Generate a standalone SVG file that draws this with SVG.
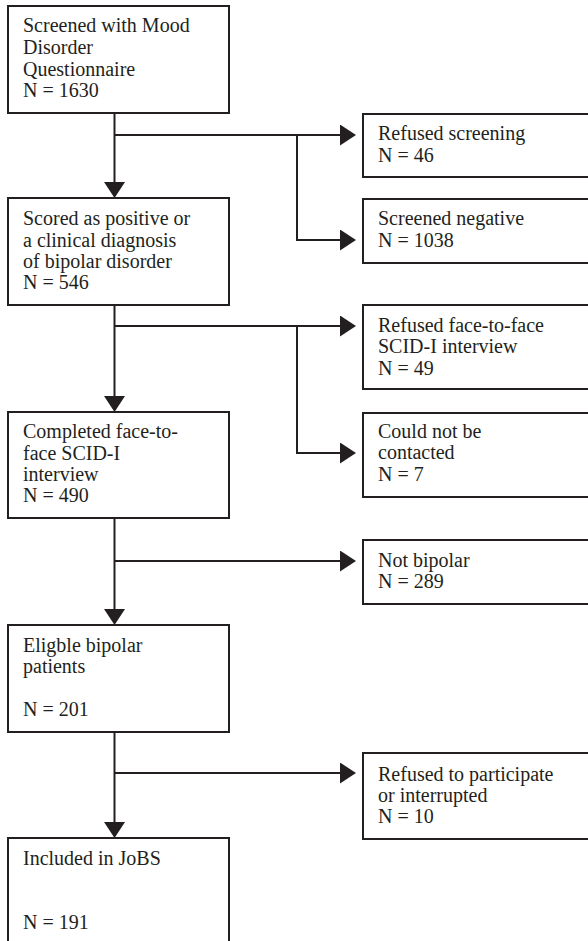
<svg xmlns="http://www.w3.org/2000/svg" width="588" height="941" viewBox="0 0 588 941">
<defs>
<style>
.box{fill:#fff;stroke:#231f20;stroke-width:2}
.t{font-family:"Liberation Serif","Times New Roman",serif;font-size:20px;fill:#231f20}
.c{fill:none;stroke:#231f20;stroke-width:2}
</style>
<marker id="ah" markerUnits="userSpaceOnUse" markerWidth="16" markerHeight="21" refX="12" refY="10.5" orient="auto">
<path d="M0,0 L16,10.5 L0,21 Z" fill="#231f20"/>
</marker>
</defs>
<rect width="588" height="941" fill="#fff"/>
<g id="connectors">
<path class="c" d="M114.5,113 V194" marker-end="url(#ah)"/>
<path class="c" d="M114.5,135 H352" marker-end="url(#ah)"/>
<path class="c" d="M297,135 V240 H352" marker-end="url(#ah)"/>
<path class="c" d="M114.5,305 V408" marker-end="url(#ah)"/>
<path class="c" d="M114.5,326 H352" marker-end="url(#ah)"/>
<path class="c" d="M297,326 V453 H352" marker-end="url(#ah)"/>
<path class="c" d="M114.5,518 V621" marker-end="url(#ah)"/>
<path class="c" d="M114.5,561 H352" marker-end="url(#ah)"/>
<path class="c" d="M114.5,732 V834" marker-end="url(#ah)"/>
<path class="c" d="M114.5,773 H352" marker-end="url(#ah)"/>
</g>
<g id="n1">
<rect class="box" x="8" y="6" width="221" height="107"/>
<text class="t" x="23" y="32">Screened with Mood</text>
<text class="t" x="23" y="54">Disorder</text>
<text class="t" x="23" y="76">Questionnaire</text>
<text class="t" x="23" y="97">N = 1630</text>
</g>
<g id="n2">
<rect class="box" x="8" y="198" width="221" height="107"/>
<text class="t" x="23" y="225">Scored as positive or</text>
<text class="t" x="23" y="247">a clinical diagnosis</text>
<text class="t" x="23" y="268">of bipolar disorder</text>
<text class="t" x="23" y="289">N = 546</text>
</g>
<g id="n3">
<rect class="box" x="8" y="412" width="221" height="106"/>
<text class="t" x="23" y="438">Completed face-to-</text>
<text class="t" x="23" y="460">face SCID-I</text>
<text class="t" x="23" y="481">interview</text>
<text class="t" x="23" y="502">N = 490</text>
</g>
<g id="n4">
<rect class="box" x="8" y="625" width="221" height="107"/>
<text class="t" x="23" y="652">Eligble bipolar</text>
<text class="t" x="23" y="673">patients</text>
<text class="t" x="23" y="716">N = 201</text>
</g>
<g id="n5">
<rect class="box" x="8" y="838" width="221" height="130"/>
<text class="t" x="23" y="865">Included in JoBS</text>
<text class="t" x="23" y="929">N = 191</text>
</g>
<g id="r1">
<rect class="box" x="363" y="114" width="240" height="63"/>
<text class="t" x="378" y="140">Refused screening</text>
<text class="t" x="378" y="162">N = 46</text>
</g>
<g id="r2">
<rect class="box" x="363" y="199" width="240" height="64"/>
<text class="t" x="378" y="225">Screened negative</text>
<text class="t" x="378" y="247">N = 1038</text>
</g>
<g id="r3">
<rect class="box" x="363" y="305" width="240" height="84"/>
<text class="t" x="378" y="332">Refused face-to-face</text>
<text class="t" x="378" y="353">SCID-I interview</text>
<text class="t" x="378" y="375">N = 49</text>
</g>
<g id="r4">
<rect class="box" x="363" y="413" width="240" height="84"/>
<text class="t" x="378" y="438">Could not be</text>
<text class="t" x="378" y="459">contacted</text>
<text class="t" x="378" y="481">N = 7</text>
</g>
<g id="r5">
<rect class="box" x="363" y="540" width="240" height="64"/>
<text class="t" x="378" y="567">Not bipolar</text>
<text class="t" x="378" y="588">N = 289</text>
</g>
<g id="r6">
<rect class="box" x="363" y="753" width="240" height="86"/>
<text class="t" x="378" y="781">Refused to participate</text>
<text class="t" x="378" y="802">or interrupted</text>
<text class="t" x="378" y="823">N = 10</text>
</g>
</svg>
